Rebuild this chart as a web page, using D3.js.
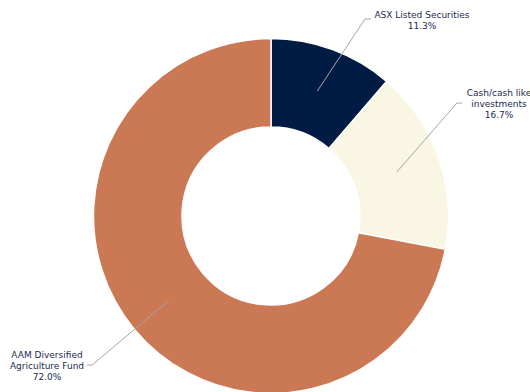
<!DOCTYPE html>
<html><head><meta charset="utf-8">
<script src="https://cdn.jsdelivr.net/npm/d3@7"></script>
<style>html,body{margin:0;padding:0;background:#fff;}svg{display:block;}</style>
</head><body>
<svg id="c" width="530" height="392"></svg>
<script>
const categories = ["ASX Listed Securities", "Cash/cash like investments", "AAM Diversified Agriculture Fund"];
const values = [11.3, 16.7, 72.0];
const labelLines = [["ASX Listed Securities"], ["Cash/cash like", "investments"], ["AAM Diversified", "Agriculture Fund"]];
const colors = ["#011c44", "#f9f6e3", "#cb7855"];

// layout (positions of label blocks)
const cx = 271, cy = 216, rOuter = 177.5, rInner = 89;
const labelPos = [
  {x: 422, y: 17.5, elbow: [365, 19], end: [371, 19]},
  {x: 499, y: 96, elbow: [457, 103], end: [462, 103]},
  {x: 47, y: 358, elbow: [92, 365], end: [87, 365]}
];

const svg = d3.select("#c");
const g = svg.append("g").attr("transform", `translate(${cx},${cy})`);
const pie = d3.pie().sort(null).value(d => d)(values);
const arc = d3.arc().innerRadius(rInner).outerRadius(rOuter);

g.selectAll("path.slice").data(pie).join("path")
  .attr("class", "slice")
  .attr("d", arc)
  .attr("fill", (d, i) => colors[i])
  .attr("stroke", "#fff").attr("stroke-width", 1.5);

// leader lines
pie.forEach((d, i) => {
  const c = arc.centroid(d);
  const p = labelPos[i];
  svg.append("polyline")
    .attr("points", [[c[0] + cx, c[1] + cy], p.elbow, p.end].map(q => q.join(",")).join(" "))
    .attr("fill", "none").attr("stroke", "#a6a6a6").attr("stroke-width", 1);
  const lines = labelLines[i].concat([values[i].toFixed(1) + "%"]);
  const t = svg.append("text")
    .attr("text-anchor", "middle")
    .attr("font-family", "DejaVu Sans, Verdana, sans-serif")
    .attr("font-size", 9).attr("fill", "#1c2b4f");
  lines.forEach((l, j) => {
    t.append("tspan").attr("x", p.x).attr("y", p.y + j * 11).text(l);
  });
});
</script>
</body></html>
